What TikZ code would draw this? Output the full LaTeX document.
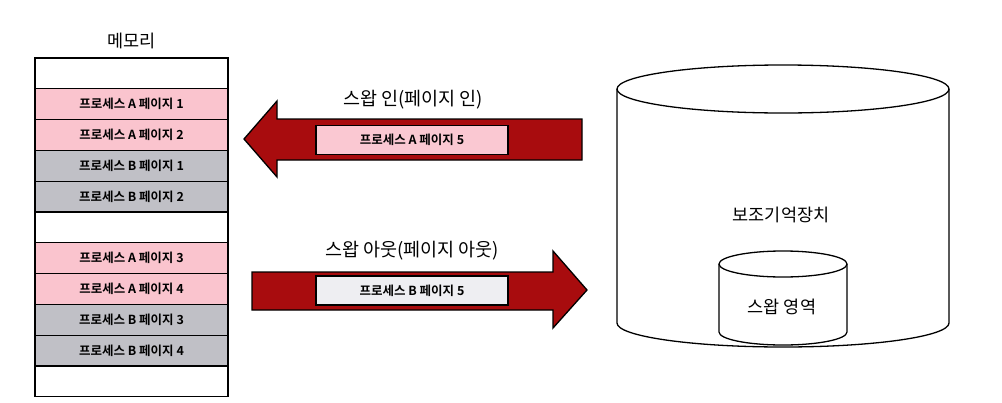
\documentclass[tikz,border=0pt]{standalone}
\usepackage{fontspec}
\setmainfont{Noto Sans CJK KR}[BoldFont={Noto Sans CJK KR Bold}]
\begin{document}
\begin{tikzpicture}[x=1pt,y=-1pt,
  row/.style={draw=black,line width=1.3pt,minimum width=193pt,minimum height=30.8pt,inner sep=0pt,font=\fontsize{12.5}{13}\selectfont\bfseries},
  pinkrow/.style={row,fill=rowpink},
  grayrow/.style={row,fill=rowgray},
  whiterow/.style={row,fill=white},
  title/.style={font=\fontsize{17.5}{19}\selectfont,inner sep=0pt},
  bigarrow/.style={draw=black,line width=1.3pt,fill=arrowred},
  inbox/.style={draw=black,line width=1.2pt,minimum width=192pt,minimum height=29pt,inner sep=0pt,font=\fontsize{12.5}{13}\selectfont\bfseries},
  cyl/.style={draw=black,line width=1.3pt}]
\definecolor{rowpink}{RGB}{250,196,206}
\definecolor{rowgray}{RGB}{192,192,198}
\definecolor{arrowred}{RGB}{168,12,14}
\definecolor{boxpink}{RGB}{250,200,210}
\definecolor{boxgray}{RGB}{238,238,242}
\useasboundingbox (0,0) rectangle (1002,402);
% memory
\node[title] (memtitle) at (131.5,41) {메모리};
\node[whiterow] (r0) at (131.5,73.4) {};
\node[pinkrow] (r1) at (131.5,104.2) {프로세스 A 페이지 1};
\node[pinkrow] (r2) at (131.5,135.0) {프로세스 A 페이지 2};
\node[grayrow] (r3) at (131.5,165.8) {프로세스 B 페이지 1};
\node[grayrow] (r4) at (131.5,196.6) {프로세스 B 페이지 2};
\node[whiterow] (r5) at (131.5,227.4) {};
\node[pinkrow] (r6) at (131.5,258.2) {프로세스 A 페이지 3};
\node[pinkrow] (r7) at (131.5,289.0) {프로세스 A 페이지 4};
\node[grayrow] (r8) at (131.5,319.8) {프로세스 B 페이지 3};
\node[grayrow] (r9) at (131.5,350.6) {프로세스 B 페이지 4};
\node[whiterow] (r10) at (131.5,381.4) {};
% swap in arrow
\draw[bigarrow] (582,119) -- (277,119) -- (277,101) -- (244,139) -- (277,177) -- (277,160) -- (582,160) -- cycle;
\node[title,font=\fontsize{18.5}{20}\selectfont] (intitle) at (413,100) {스왑 인(페이지 인)};
\node[inbox,fill=boxpink] (inpage) at (412,140) {프로세스 A 페이지 5};
% swap out arrow
\draw[bigarrow] (252,272) -- (553,272) -- (553,251) -- (587,290) -- (553,328) -- (553,310) -- (252,310) -- cycle;
\node[title,font=\fontsize{18.5}{20}\selectfont] (outtitle) at (412,251) {스왑 아웃(페이지 아웃)};
\node[inbox,fill=boxgray] (outpage) at (412,290.5) {프로세스 B 페이지 5};
% big cylinder
\draw[cyl,fill=white] (617,89) -- (617,323) arc[start angle=180,end angle=360,x radius=166pt,y radius=24pt] -- (949,89);
\draw[cyl,fill=white] (783,89) ellipse[x radius=166pt,y radius=24pt];
\node[title] (storage) at (781,215) {보조기억장치};
% small cylinder
\draw[cyl,fill=white] (719,264) -- (719,332) arc[start angle=180,end angle=360,x radius=64pt,y radius=13pt] -- (847,264);
\draw[cyl,fill=white] (783,264) ellipse[x radius=64pt,y radius=13pt];
\node[title] (swaparea) at (782,307) {스왑 영역};
\end{tikzpicture}
\end{document}
